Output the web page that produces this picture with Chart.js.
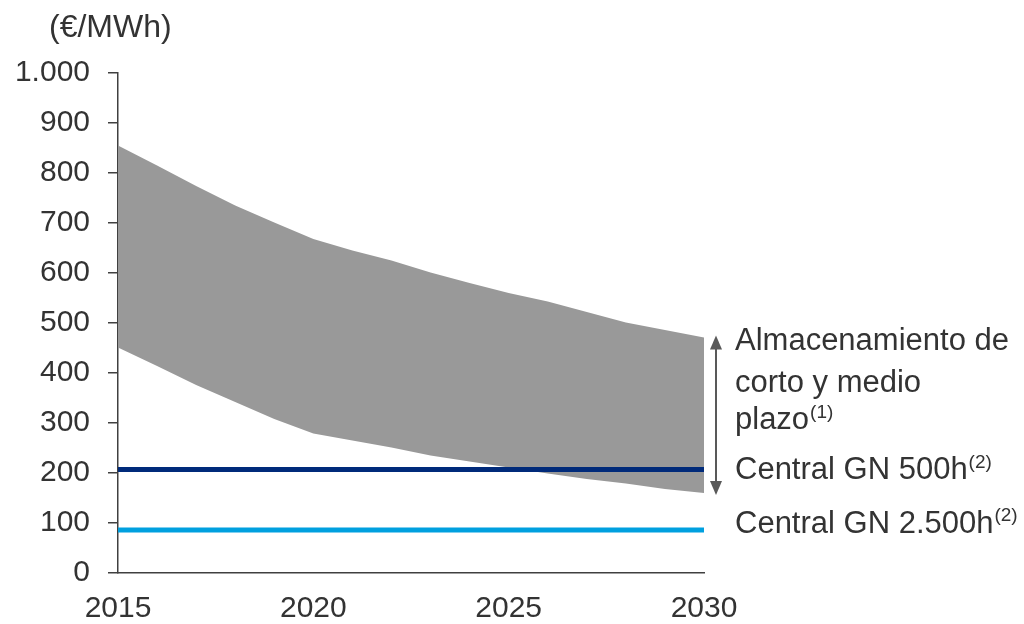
<!DOCTYPE html>
<html>
<head>
<meta charset="utf-8">
<script src="https://cdn.jsdelivr.net/npm/chart.js@4/dist/chart.umd.min.js"></script>
<style>
  body { margin: 0; background: #fff; }
  #wrap { width: 1024px; height: 624px; }
</style>
</head>
<body>
<div id="wrap"><canvas id="chart"></canvas></div>
<script>
// data (€/MWh)
const years = [2015, 2016, 2017, 2018, 2019, 2020, 2021, 2022, 2023, 2024, 2025, 2026, 2027, 2028, 2029, 2030];
const storageHigh = [855, 815, 774, 735, 701, 668, 645, 625, 601, 580, 560, 543, 522, 501, 486, 471];
const storageLow = [451, 414, 376, 342, 308, 279, 265, 251, 235, 223, 211, 199, 188, 179, 168, 160];
const gnYears = [2015, 2030];
const gn500 = [207, 207];
const gn2500 = [86, 86];
const yTicks = [0, 100, 200, 300, 400, 500, 600, 700, 800, 900, 1000];

const FONT = '"Liberation Sans", Arial, sans-serif';
const TEXT = '#333333';
const AXIS = '#404040';

const pts = (xs, ys) => xs.map((x, i) => ({ x: x, y: ys[i] }));

// text + double arrow on the right side, unit label on top
const notes = {
  id: 'notes',
  afterDraw(chart) {
    const { ctx, chartArea, scales } = chart;
    const y = scales.y;
    const ax = chartArea.right + 12;
    const top = y.getPixelForValue(storageHigh[storageHigh.length - 1]);
    const bot = y.getPixelForValue(storageLow[storageLow.length - 1]);

    ctx.save();
    // double arrow
    ctx.strokeStyle = '#595959';
    ctx.fillStyle = '#595959';
    ctx.lineWidth = 2;
    ctx.beginPath();
    ctx.moveTo(ax, top + 10);
    ctx.lineTo(ax, bot - 10);
    ctx.stroke();
    ctx.beginPath();
    ctx.moveTo(ax, top - 2);
    ctx.lineTo(ax - 6, top + 12);
    ctx.lineTo(ax + 6, top + 12);
    ctx.closePath();
    ctx.fill();
    ctx.beginPath();
    ctx.moveTo(ax, bot + 2);
    ctx.lineTo(ax - 6, bot - 12);
    ctx.lineTo(ax + 6, bot - 12);
    ctx.closePath();
    ctx.fill();

    // labels
    const tx = chartArea.right + 31;
    ctx.fillStyle = TEXT;
    ctx.textBaseline = 'middle';
    ctx.textAlign = 'left';
    const write = (txt, sup, x, yy) => {
      ctx.font = '31px ' + FONT;
      ctx.fillText(txt, x, yy);
      if (sup) {
        const w = ctx.measureText(txt).width;
        ctx.font = '19px ' + FONT;
        ctx.fillText(sup, x + w + 1, yy - 8);
      }
    };
    write('Almacenamiento de', '', tx, top + 4);
    write('corto y medio', '', tx, top + 46);
    write('plazo', '(1)', tx, top + 83);
    write('Central GN 500h', '(2)', tx, y.getPixelForValue(gn500[0]) + 1);
    write('Central GN 2.500h', '(2)', tx, y.getPixelForValue(gn2500[0]) - 6);

    // unit
    ctx.font = '32px ' + FONT;
    ctx.fillText('(€/MWh)', chartArea.left - 69, 28);
    ctx.restore();
  }
};

new Chart(document.getElementById('chart'), {
  type: 'line',
  data: {
    datasets: [
      {
        label: 'Central GN 500h',
        data: pts(gnYears, gn500),
        borderColor: '#002a7a',
        borderWidth: 5,
        pointRadius: 0,
        fill: false,
      },
      {
        label: 'Central GN 2.500h',
        data: pts(gnYears, gn2500),
        borderColor: '#00a0df',
        borderWidth: 5,
        pointRadius: 0,
        fill: false,
      },
      {
        label: 'Almacenamiento (máx.)',
        data: pts(years, storageHigh),
        borderWidth: 0,
        borderColor: 'rgba(0,0,0,0)',
        backgroundColor: '#999999',
        pointRadius: 0,
        fill: '+1',
        tension: 0,
      },
      {
        label: 'Almacenamiento (mín.)',
        data: pts(years, storageLow),
        borderWidth: 0,
        borderColor: 'rgba(0,0,0,0)',
        pointRadius: 0,
        fill: false,
        tension: 0,
      },
    ],
  },
  options: {
    responsive: true,
    maintainAspectRatio: false,
    animation: false,
    layout: { padding: { top: 73, right: 320, left: 0, bottom: 0 } },
    plugins: {
      legend: { display: false },
      tooltip: { enabled: false },
    },
    scales: {
      x: {
        type: 'linear',
        min: 2015,
        max: 2030,
        afterFit: (s) => { s.height = 51; },
        afterBuildTicks: (s) => { s.ticks = [2015, 2020, 2025, 2030].map(v => ({ value: v })); },
        grid: { display: false },
        border: { display: true, color: AXIS, width: 1.5 },
        ticks: {
          color: TEXT,
          font: { family: FONT, size: 30 },
          padding: 10,
          maxRotation: 0,
          callback: (v) => String(v),
        },
      },
      y: {
        min: 0,
        max: 1000,
        afterFit: (s) => { s.width = 118; },
        afterBuildTicks: (s) => { s.ticks = yTicks.map(v => ({ value: v })); },
        grid: {
          drawOnChartArea: false,
          drawTicks: true,
          tickLength: 10,
          color: AXIS,
          lineWidth: 1.5,
        },
        border: { display: true, color: AXIS, width: 1.5 },
        ticks: {
          color: TEXT,
          font: { family: FONT, size: 30 },
          padding: 18,
          callback: (v) => v.toLocaleString('de-DE'),
        },
      },
    },
  },
  plugins: [notes],
});
</script>
</body>
</html>
